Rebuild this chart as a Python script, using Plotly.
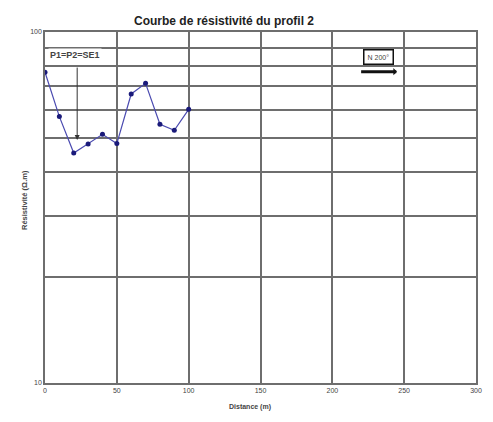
import plotly.graph_objects as go

# Resistivity profile 2: distance along the line (m) and apparent resistivity (ohm.m)
distance_m = [0, 10, 20, 30, 40, 50, 60, 70, 80, 90, 100]
resistivity = [76.8, 57.4, 45.2, 48.0, 51.1, 48.1, 66.6, 71.4, 54.6, 52.5, 60.2]

x_ticks = [0, 50, 100, 150, 200, 250, 300]
y_grid = [10, 20, 30, 40, 50, 60, 70, 80, 90, 100]
y_labels = ["10", "", "", "", "", "", "", "", "", "100"]

fig = go.Figure()
fig.add_trace(go.Scatter(
    x=distance_m, y=resistivity, mode="lines+markers",
    line=dict(color="#4a4ab0", width=1.2),
    marker=dict(color="#1a1a7a", size=5),
    showlegend=False,
))

grid_col = "#6e6e6e"
axis_font = dict(family="Liberation Sans, Arial, sans-serif", size=7, color="#444")

fig.update_xaxes(
    range=[0, 300], tickvals=x_ticks, showgrid=True, gridcolor=grid_col, gridwidth=1.5,
    showline=True, linecolor=grid_col, linewidth=1.5, mirror=True,
    zeroline=False, ticks="", tickfont=axis_font,
)
fig.update_yaxes(
    type="log", range=[1, 2], tickvals=y_grid, ticktext=y_labels,
    showgrid=True, gridcolor=grid_col, gridwidth=1.5,
    showline=True, linecolor=grid_col, linewidth=1.5, mirror=True,
    zeroline=False, ticks="", tickfont=axis_font,
)

annots = [
    dict(text="<b>Courbe de résistivité du profil 2</b>", xref="paper", yref="paper",
         x=0.415, y=1.0, yshift=20, showarrow=False, xanchor="center",
         font=dict(family="Liberation Sans, Arial, sans-serif", size=12, color="#222")),
    dict(text="<b>Distance (m)</b>", xref="paper", yref="paper", x=0.475, y=0,
         yshift=-30, showarrow=False, font=axis_font),
    dict(text="<b>Résistivité (Ω.m)</b>", xref="paper", yref="paper", x=0, y=0.52,
         xshift=-27, showarrow=False, textangle=-90,
         font=dict(family="Liberation Sans, Arial, sans-serif", size=7.5, color="#444")),
    # sounding location marker
    dict(text="<b>P1=P2=SE1</b>", x=0, y=1.935, xref="x", yref="y", xanchor="left",
         showarrow=False, bgcolor="white", xshift=3,
         font=dict(family="Liberation Sans, Arial, sans-serif", size=9, color="#444")),
    dict(x=22.4, y=1.692, ax=22.4, ay=1.903, xref="x", yref="y", axref="x", ayref="y",
         text="", showarrow=True, arrowhead=2, arrowsize=1, arrowwidth=1, arrowcolor="#333"),
    # orientation box
    dict(text="N 200°", x=232, y=1.928, xref="x", yref="y", showarrow=False,
         bgcolor="white", bordercolor="#111", borderwidth=1.5, borderpad=3,
         font=dict(family="Liberation Sans, Arial, sans-serif", size=7, color="#444")),
    dict(x=245, y=1.887, ax=219, ay=1.887, xref="x", yref="y", axref="x", ayref="y",
         text="", showarrow=True, arrowhead=1, arrowsize=0.4, arrowwidth=3, arrowcolor="#111"),
]
fig.update_layout(
    width=493, height=422,
    margin=dict(l=45, r=11, t=32, b=39),
    paper_bgcolor="white", plot_bgcolor="white",
    annotations=annots,
)

fig.write_html("out.html")
